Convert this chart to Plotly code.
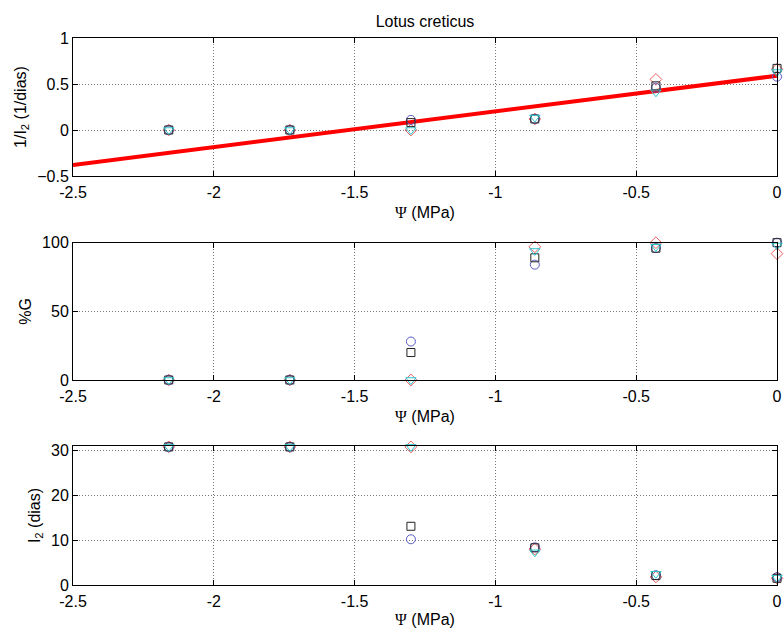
import plotly.graph_objects as go

# ---- data ----
psi = [-2.16, -1.73, -1.30, -0.86, -0.43, 0.0]

# 1/I2 (1/dias)
inv_diamond = [0.0, 0.0, 0.0, 0.12, 0.55, 0.66]
inv_circle = [0.0, 0.0, 0.11, 0.12, 0.46, 0.58]
inv_square = [0.0, 0.0, 0.08, 0.12, 0.48, 0.67]
inv_triangle = [0.0, 0.0, 0.0, 0.135, 0.41, 0.63]

# %G
g_diamond = [0, 0, 0, 97, 100, 92]
g_circle = [0, 0, 28, 84, 96, 100]
g_square = [0, 0, 20, 89, 96, 100]
g_triangle = [0, 0, 0, 94, 97, 98]

# I2 (dias)
i2_diamond = [30.8, 30.8, 30.8, 8.0, 1.8, 1.5]
i2_circle = [30.8, 30.8, 10.2, 8.4, 2.2, 1.75]
i2_square = [30.8, 30.8, 13.1, 8.3, 2.1, 1.5]
i2_triangle = [30.8, 30.8, 30.8, 7.3, 2.5, 1.6]

# regression line
line_x = [-2.5, 0.0]
line_y = [-0.38, 0.59]

x_ticks = [-2.5, -2, -1.5, -1, -0.5, 0]
x_ticktext = ["-2.5", "-2", "-1.5", "-1", "-0.5", "0"]

series = [
    ("diamond-open", "#e86060", 9, inv_diamond, g_diamond, i2_diamond),
    ("circle-open", "#5a5ac8", 9, inv_circle, g_circle, i2_circle),
    ("square-open", "#222222", 8, inv_square, g_square, i2_square),
    ("triangle-down-open", "#30c8d0", 9, inv_triangle, g_triangle, i2_triangle),
]

fig = go.Figure()

fig.add_trace(go.Scatter(x=line_x, y=line_y, mode="lines",
                         line=dict(color="#ff0000", width=4),
                         xaxis="x", yaxis="y", showlegend=False))

for sym, col, sz, inv, g, i2 in series:
    for vals, xa, ya in ((inv, "x", "y"), (g, "x2", "y2"), (i2, "x3", "y3")):
        fig.add_trace(go.Scatter(x=psi, y=vals, mode="markers",
                                 marker=dict(symbol=sym, size=sz,
                                             color=col, line=dict(width=1, color=col)),
                                 xaxis=xa, yaxis=ya, cliponaxis=False,
                                 showlegend=False))

FAM = "Liberation Sans, Arial, sans-serif"
font = dict(family=FAM, size=16, color="#000")
xlab = dict(text='<span style="font-family:Liberation Serif">Ψ</span> (MPa)',
            font=dict(family=FAM, size=16, color="#000"), standoff=6)

common = dict(ticks="inside", ticklen=5, tickcolor="#000",
              showline=True, linecolor="#000", linewidth=1, mirror="ticks",
              showgrid=True, gridcolor="#777", griddash="1px,2px", gridwidth=1,
              zeroline=False, tickfont=font, automargin=False)


def xax(anchor):
    return dict(domain=[0, 1], anchor=anchor, range=[-2.5, 0],
                tickvals=x_ticks, ticktext=x_ticktext, title=xlab,
                ticklabelstandoff=2, **common)


def yax(anchor, dom, rng, tv, title):
    return dict(domain=dom, anchor=anchor, range=rng, tickvals=tv,
                title=dict(text=title, font=dict(family=FAM, size=16, color="#000"),
                           standoff=6), **common)


fig.update_layout(
    width=784, height=628,
    margin=dict(l=73, r=7, t=38, b=43),
    paper_bgcolor="white", plot_bgcolor="white",
    font=dict(family=FAM, color="#000"),
    xaxis=xax("y"), xaxis2=xax("y2"), xaxis3=xax("y3"),
    yaxis=yax("x", [0.7477, 1.0], [-0.5, 1], [-0.5, 0, 0.5, 1], "1/I<sub>2</sub> (1/dias)"),
    yaxis2=yax("x2", [0.3748, 0.6258], [0, 100], [0, 50, 100], "%G"),
    yaxis3=yax("x3", [0.0, 0.2541], [0, 31], [0, 10, 20, 30], "I<sub>2</sub> (dias)"),
    title=dict(text="Lotus creticus", x=425 / 784, xanchor="center",
               y=1 - 21 / 628, yanchor="middle",
               font=dict(family=FAM, size=16, color="#000")),
)

fig.write_html("out.html", config={"displayModeBar": False},
               post_script="document.body.style.margin='0';document.body.style.overflow='hidden';")
